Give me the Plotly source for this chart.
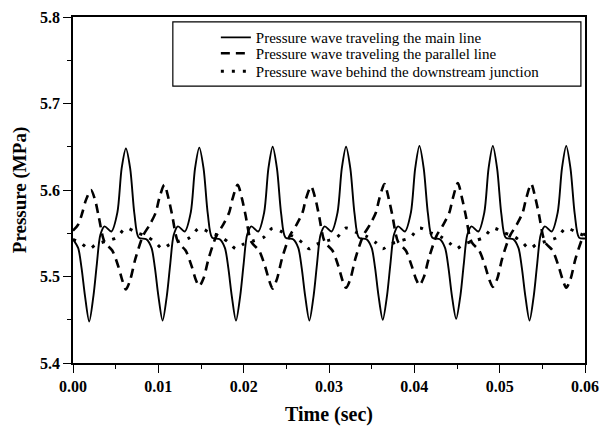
import plotly.graph_objects as go

# ---- data ----
main_t = [0.0000, 0.0006, 0.0010, 0.0014, 0.0019, 0.0024, 0.0028, 0.0032, 0.0037, 0.0045, 0.0052, 0.0057, 0.0062, 0.0067, 0.0072, 0.0077, 0.0086,
          0.0092, 0.0096, 0.0100, 0.0105, 0.0110, 0.0114, 0.0118, 0.0123, 0.0131, 0.0138, 0.0143, 0.0148, 0.0153, 0.0158, 0.0163, 0.0172,
          0.0178, 0.0182, 0.0186, 0.0191, 0.0196, 0.0200, 0.0204, 0.0209, 0.0217, 0.0224, 0.0229, 0.0234, 0.0239, 0.0244, 0.0249, 0.0258,
          0.0264, 0.0268, 0.0272, 0.0277, 0.0282, 0.0286, 0.0290, 0.0295, 0.0303, 0.0310, 0.0315, 0.0320, 0.0325, 0.0330, 0.0335, 0.0344,
          0.0350, 0.0354, 0.0358, 0.0363, 0.0368, 0.0372, 0.0376, 0.0381, 0.0389, 0.0396, 0.0401, 0.0406, 0.0411, 0.0416, 0.0421, 0.0430,
          0.0436, 0.0440, 0.0444, 0.0449, 0.0454, 0.0458, 0.0462, 0.0467, 0.0475, 0.0482, 0.0487, 0.0492, 0.0497, 0.0502, 0.0507, 0.0516,
          0.0522, 0.0526, 0.0530, 0.0535, 0.0540, 0.0544, 0.0548, 0.0553, 0.0561, 0.0568, 0.0573, 0.0578, 0.0583, 0.0588, 0.0593, 0.0600]
main_p = [5.543, 5.533, 5.510, 5.478, 5.448, 5.478, 5.515, 5.548, 5.558, 5.552, 5.574, 5.625, 5.648, 5.625, 5.572, 5.545, 5.543,
          5.533, 5.510, 5.478, 5.449, 5.478, 5.515, 5.548, 5.558, 5.552, 5.574, 5.625, 5.649, 5.625, 5.572, 5.545, 5.543,
          5.533, 5.510, 5.478, 5.449, 5.478, 5.515, 5.548, 5.558, 5.552, 5.574, 5.625, 5.650, 5.625, 5.572, 5.545, 5.543,
          5.533, 5.510, 5.478, 5.449, 5.478, 5.515, 5.548, 5.558, 5.552, 5.574, 5.625, 5.650, 5.625, 5.572, 5.545, 5.543,
          5.533, 5.510, 5.478, 5.450, 5.478, 5.515, 5.548, 5.558, 5.552, 5.574, 5.625, 5.651, 5.625, 5.572, 5.545, 5.543,
          5.533, 5.510, 5.478, 5.451, 5.478, 5.515, 5.548, 5.558, 5.552, 5.574, 5.625, 5.651, 5.625, 5.572, 5.545, 5.543,
          5.533, 5.510, 5.478, 5.449, 5.478, 5.515, 5.548, 5.558, 5.552, 5.574, 5.625, 5.651, 5.625, 5.572, 5.545, 5.544]

par_t = [0.0000, 0.0006, 0.0011, 0.0015, 0.0021, 0.0026, 0.0030, 0.0037, 0.0046, 0.0053, 0.0058, 0.0062, 0.0067, 0.0073, 0.0082, 0.0090,
         0.0097, 0.0101, 0.0107, 0.0112, 0.0116, 0.0123, 0.0132, 0.0139, 0.0144, 0.0148, 0.0153, 0.0159, 0.0168, 0.0176,
         0.0183, 0.0187, 0.0193, 0.0198, 0.0202, 0.0209, 0.0218, 0.0225, 0.0230, 0.0234, 0.0239, 0.0245, 0.0254, 0.0262,
         0.0269, 0.0273, 0.0279, 0.0284, 0.0288, 0.0295, 0.0304, 0.0311, 0.0316, 0.0320, 0.0325, 0.0331, 0.0340, 0.0348,
         0.0355, 0.0359, 0.0365, 0.0370, 0.0374, 0.0381, 0.0390, 0.0397, 0.0402, 0.0406, 0.0411, 0.0417, 0.0426, 0.0434,
         0.0441, 0.0445, 0.0451, 0.0456, 0.0460, 0.0467, 0.0476, 0.0483, 0.0488, 0.0492, 0.0497, 0.0503, 0.0512, 0.0520,
         0.0527, 0.0531, 0.0537, 0.0542, 0.0546, 0.0553, 0.0562, 0.0569, 0.0574, 0.0578, 0.0583, 0.0589, 0.0598, 0.0600]
par_p = [5.553, 5.560, 5.574, 5.588, 5.600, 5.588, 5.570, 5.540, 5.530, 5.512, 5.495, 5.485, 5.496, 5.520, 5.547, 5.560,
         5.574, 5.590, 5.606, 5.590, 5.572, 5.540, 5.530, 5.512, 5.496, 5.489, 5.498, 5.521, 5.547, 5.560,
         5.574, 5.590, 5.606, 5.590, 5.572, 5.540, 5.530, 5.512, 5.495, 5.486, 5.497, 5.521, 5.547, 5.560,
         5.574, 5.590, 5.604, 5.590, 5.572, 5.540, 5.530, 5.512, 5.495, 5.487, 5.497, 5.521, 5.547, 5.560,
         5.574, 5.590, 5.607, 5.590, 5.572, 5.540, 5.530, 5.512, 5.497, 5.490, 5.499, 5.521, 5.547, 5.560,
         5.574, 5.590, 5.608, 5.590, 5.572, 5.540, 5.530, 5.512, 5.496, 5.488, 5.497, 5.521, 5.547, 5.560,
         5.574, 5.590, 5.607, 5.590, 5.572, 5.540, 5.530, 5.512, 5.496, 5.487, 5.497, 5.521, 5.547, 5.550]

down_t = [0.0000, 0.0009, 0.0019, 0.0027, 0.0039, 0.0051, 0.0062, 0.0074, 0.0087, 0.0097,
          0.0105, 0.0113, 0.0125, 0.0137, 0.0148, 0.0160, 0.0173, 0.0183,
          0.0191, 0.0199, 0.0211, 0.0223, 0.0234, 0.0246, 0.0259, 0.0269,
          0.0277, 0.0285, 0.0297, 0.0309, 0.0320, 0.0332, 0.0345, 0.0355,
          0.0363, 0.0371, 0.0383, 0.0395, 0.0406, 0.0418, 0.0431, 0.0441,
          0.0449, 0.0457, 0.0469, 0.0481, 0.0492, 0.0504, 0.0517, 0.0527,
          0.0535, 0.0543, 0.0555, 0.0567, 0.0578, 0.0590, 0.0600]
down_p = [5.543, 5.539, 5.532, 5.537, 5.541, 5.545, 5.556, 5.551, 5.546, 5.539,
          5.532, 5.537, 5.541, 5.545, 5.556, 5.551, 5.546, 5.539,
          5.532, 5.537, 5.541, 5.545, 5.556, 5.551, 5.546, 5.539,
          5.532, 5.537, 5.541, 5.545, 5.556, 5.551, 5.546, 5.539,
          5.532, 5.537, 5.541, 5.545, 5.556, 5.551, 5.546, 5.539,
          5.532, 5.537, 5.541, 5.545, 5.556, 5.551, 5.546, 5.539,
          5.532, 5.537, 5.541, 5.545, 5.556, 5.551, 5.547]

names = ["Pressure wave traveling the main line",
         "Pressure wave traveling the parallel line",
         "Pressure wave behind the downstream junction"]

x_ticks = [0.00, 0.01, 0.02, 0.03, 0.04, 0.05, 0.06]
y_ticks = [5.4, 5.5, 5.6, 5.7, 5.8]

SERIF = "Liberation Serif, Times New Roman, serif"

fig = go.Figure()
fig.add_trace(go.Scatter(x=main_t, y=main_p, mode="lines", name=names[0], legend="legend",
                         line=dict(color="black", width=1.9, shape="spline", smoothing=0.8)))
fig.add_trace(go.Scatter(x=par_t, y=par_p, mode="lines", name=names[1], legend="legend2",
                         line=dict(color="black", width=2.6, dash="9px,6px", shape="spline", smoothing=0.8)))
fig.add_trace(go.Scatter(x=down_t, y=down_p, mode="lines", name=names[2], legend="legend3",
                         line=dict(color="black", width=3, dash="3px,8px", shape="spline", smoothing=0.8)))

axis_common = dict(showgrid=False, zeroline=False, showline=True, linecolor="black", linewidth=1.5,
                   mirror=True, ticks="outside", ticklen=8, tickwidth=1.3, tickcolor="black",
                   tickfont=dict(family=SERIF, size=16, color="black", weight="bold"))

fig.update_xaxes(range=[0, 0.06], tickvals=x_ticks, tickformat=".2f",
                 minor=dict(dtick=0.005, ticks="outside", ticklen=4, tickcolor="black", tickwidth=1.2),
                 title=dict(text="Time (sec)", font=dict(family=SERIF, size=20, color="black", weight="bold"), standoff=14),
                 **axis_common)
fig.update_yaxes(range=[5.4, 5.8], tickvals=y_ticks, tickformat=".1f",
                 minor=dict(dtick=0.05, ticks="outside", ticklen=4, tickcolor="black", tickwidth=1.2),
                 title=dict(text="Pressure (MPa)", font=dict(family=SERIF, size=19, color="black", weight="bold"), standoff=8),
                 **axis_common)

fig.add_shape(type="rect", xref="paper", yref="paper", x0=0.195, x1=0.992, y0=0.80, y1=0.986,
              line=dict(color="black", width=1.2), fillcolor="white", layer="below")

leg_common = dict(xanchor="left", yanchor="top", bgcolor="rgba(0,0,0,0)", borderwidth=0,
                  font=dict(family=SERIF, size=15, color="black"), itemwidth=30)

fig.update_layout(
    width=603, height=426,
    margin=dict(l=73, r=18, t=17, b=63, autoexpand=False),
    paper_bgcolor="white", plot_bgcolor="white",
    showlegend=True,
    legend=dict(x=0.279, y=0.988, **leg_common),
    legend2=dict(x=0.279, y=0.942, **leg_common),
    legend3=dict(x=0.279, y=0.890, **leg_common),
)

fig.write_html("out.html")
